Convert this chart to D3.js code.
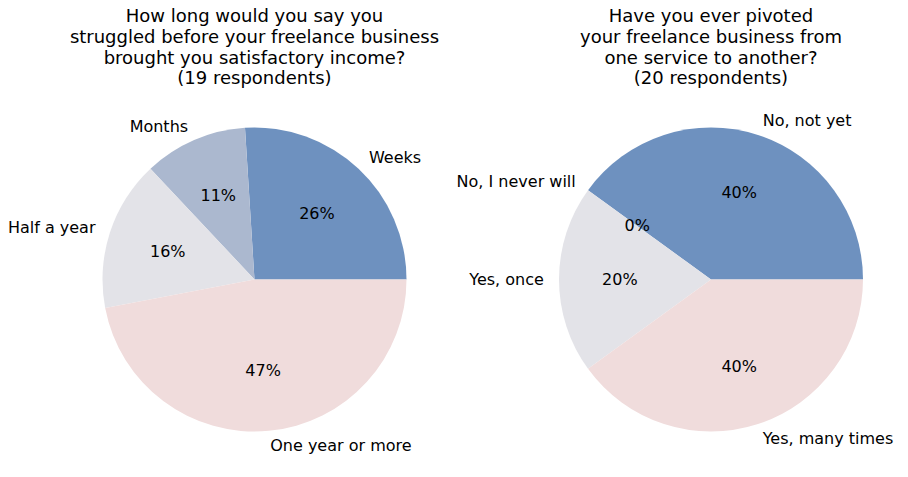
<!DOCTYPE html>
<html><head><meta charset="utf-8">
<script src="https://cdn.jsdelivr.net/npm/d3@7"></script>
<style>body{margin:0;background:#fff}svg{display:block}text{font-family:"DejaVu Sans",sans-serif;fill:#000}</style>
</head><body><svg id="c" width="908" height="477"></svg>
<script>
const title1 = ["How long would you say you","struggled before your freelance business","brought you satisfactory income?","(19 respondents)"];
const labels1 = ["Weeks","Months","Half a year","One year or more"];
const values1 = [26,11,16,47];
const title2 = ["Have you ever pivoted","your freelance business from","one service to another?","(20 respondents)"];
const labels2 = ["No, not yet","No, I never will","Yes, once","Yes, many times"];
const values2 = [40,0,20,40];
const colors = ["#6e91bf","#abb8cf","#e3e3e8","#f0dcdc"];

const svg = d3.select("#c");
const R = 152;
function drawPie(cx, cy, titleLines, labels, values, titleCx){
  const g = svg.append("g").attr("transform",`translate(${cx},${cy})`);
  const total = d3.sum(values);
  const pie = d3.pie().sort(null).value(d=>d.v)
    .startAngle(Math.PI/2).endAngle(Math.PI/2 - 2*Math.PI);
  const data = pie(values.map((v,i)=>({v,label:labels[i],i})));
  const arc = d3.arc().innerRadius(0).outerRadius(R);
  g.selectAll("path").data(data).join("path")
    .attr("d",arc).attr("fill",d=>colors[d.data.i]);
  data.forEach(d=>{
    const mid = (d.startAngle+d.endAngle)/2;
    const sx = Math.sin(mid), sy = -Math.cos(mid);
    const lx = 1.1*R*sx, ly = 1.1*R*sy;
    g.append("text").attr("x",lx).attr("y",ly)
      .attr("text-anchor", lx>0?"start":"end")
      .attr("dominant-baseline","central")
      .style("font-size","16px").text(d.data.label);
    g.append("text").attr("x",0.6*R*sx).attr("y",0.6*R*sy)
      .attr("text-anchor","middle").attr("dominant-baseline","central")
      .style("font-size","16px")
      .text(Math.round(d.data.v/total*100)+"%");
  });
  const t = svg.append("text").attr("text-anchor","middle").style("font-size","18px");
  titleLines.forEach((s,k)=>{
    t.append("tspan").attr("x",titleCx).attr("y",22+k*20.8).text(s);
  });
}
drawPie(254.5, 279.5, title1, labels1, values1, 254.5);
drawPie(711, 279.5, title2, labels2, values2, 711);
</script></body></html>
